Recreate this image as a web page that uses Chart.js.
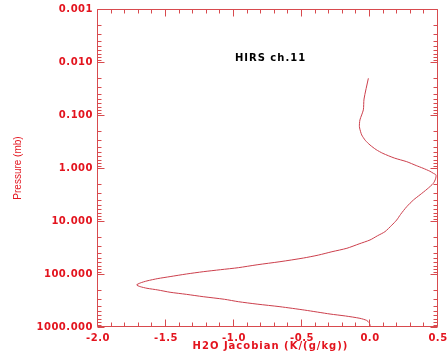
<!DOCTYPE html>
<html><head><meta charset="utf-8">
<script src="https://cdn.jsdelivr.net/npm/chart.js@4/dist/chart.umd.min.js"></script>
<style>html,body{margin:0;padding:0;background:#fff;overflow:hidden;}</style>
</head><body>
<canvas id="c" width="448" height="358" style="display:block;width:448px;height:358px"></canvas>
<script>
// Pressure levels (mb) and H2O Jacobian values (K/(g/kg))
const pressure = [0.0203, 0.05, 0.08, 0.124, 0.166, 0.207, 0.238, 0.3, 0.368, 0.45, 0.53, 0.65, 0.76, 0.9, 1.01, 1.15, 1.26, 1.35, 1.6, 1.94, 2.5, 3.2, 4.0, 5.37, 7.5, 9.6, 12, 15.9, 19, 22.8, 27, 32.7, 38, 44, 50, 58.6, 67, 76, 83, 90.5, 100, 112, 122, 135, 148, 161, 173, 186, 200, 221, 242, 268, 300, 333, 370, 414, 480, 569, 620, 686, 750, 830, 917, 1000];
const jacobian = [-0.012, -0.044, -0.049, -0.074, -0.078, -0.069, -0.061, -0.035, 0.0, 0.045, 0.095, 0.18, 0.27, 0.34, 0.39, 0.44, 0.466, 0.485, 0.482, 0.466, 0.42, 0.368, 0.32, 0.27, 0.225, 0.196, 0.16, 0.11, 0.055, 0.0, -0.08, -0.17, -0.28, -0.38, -0.49, -0.662, -0.83, -0.968, -1.10, -1.226, -1.35, -1.47, -1.56, -1.64, -1.69, -1.716, -1.69, -1.64, -1.56, -1.47, -1.35, -1.226, -1.07, -0.968, -0.83, -0.662, -0.48, -0.294, -0.18, -0.074, -0.025, -0.006, 0.0, 0.0];

const yTickValues = [0.001, 0.01, 0.1, 1, 10, 100, 1000];
const yTickLabels = ['0.001', '0.010', '0.100', '1.000', '10.000', '100.000', '1000.000'];
const xTickValues = [-2, -1.5, -1, -0.5, 0, 0.5];
const xTickLabels = ['-2.0', '-1.5', '-1.0', '-0.5', '0.0', '0.5'];

const chartTitle = 'HIRS ch.11';
const xTitle = 'H2O Jacobian (K/(g/kg))';
const yTitle = 'Pressure (mb)';

const RED_TEXT = '#e3141e';
const AXIS_COLOR = '#d84a4e';
const LINE_COLOR = '#cc3f4c';

// minor tick positions (generated grid, not data)
const xMinor = [];
for (let i = -20; i <= 5; i++) xMinor.push(i / 10);
const yMinor = [];
for (let k = -3; k <= 2; k++) for (let m = 2; m <= 9; m++) yMinor.push(m * Math.pow(10, k));

const framePlugin = {
  id: 'frame',
  beforeDraw(chart) {
    chart.ctx.letterSpacing = '0.5px';
  },
  afterDraw(chart) {
    const ctx = chart.ctx, ca = chart.chartArea;
    const xs = chart.scales.x, ys = chart.scales.y;
    ctx.save();
    ctx.strokeStyle = AXIS_COLOR;
    ctx.lineWidth = 1;
    const L = Math.round(ca.left) - 0.5, R = Math.round(ca.right) - 0.5;
    const T = Math.round(ca.top) + 0.5, B = Math.round(ca.bottom) - 0.5;
    ctx.beginPath();
    ctx.rect(L, T, R - L, B - T);
    ctx.stroke();
    ctx.beginPath();
    xMinor.forEach(v => {
      const isMajor = xTickValues.some(m => Math.abs(m - v) < 1e-9);
      const len = isMajor ? 7 : 4;
      const px = Math.round(xs.getPixelForValue(v)) - 0.5;
      ctx.moveTo(px, B); ctx.lineTo(px, B - len);
      ctx.moveTo(px, T); ctx.lineTo(px, T + len);
    });
    const yAll = yTickValues.map(v => [v, 7]).concat(yMinor.map(v => [v, 4]));
    yAll.forEach(([v, len]) => {
      const py = Math.round(ys.getPixelForValue(v)) + 0.5;
      ctx.moveTo(L, py); ctx.lineTo(L + len, py);
      ctx.moveTo(R, py); ctx.lineTo(R - len, py);
    });
    ctx.stroke();

    // texts
    ctx.textAlign = 'center';
    ctx.textBaseline = 'middle';
    ctx.letterSpacing = '1px';
    ctx.font = 'bold 10px "DejaVu Sans"';
    ctx.fillStyle = '#000';
    ctx.fillText(chartTitle, ca.left + ca.width / 2 + 2.5, ca.top + 49);
    ctx.fillStyle = RED_TEXT;
    ctx.fillText(xTitle, ca.left + ca.width / 2 + 2.5, ca.bottom + 19);
    ctx.letterSpacing = '0px';
    ctx.font = '10px "Liberation Sans"';
    ctx.translate(18.5, (ca.top + ca.bottom) / 2);
    ctx.rotate(-Math.PI / 2);
    ctx.fillText(yTitle, 0, 0);
    ctx.restore();
    ctx.letterSpacing = '0px';
  }
};

const tickFont = { family: 'DejaVu Sans', weight: 'bold', size: 10 };

new Chart(document.getElementById('c'), {
  type: 'scatter',
  data: {
    datasets: [{
      data: pressure.map((p, i) => ({ x: jacobian[i], y: p })),
      showLine: true,
      borderColor: LINE_COLOR,
      borderWidth: 1,
      pointRadius: 0,
      fill: false,
      tension: 0.25
    }]
  },
  options: {
    responsive: false,
    animation: false,
    devicePixelRatio: 1,
    layout: { padding: { top: 9, right: 10, left: 0, bottom: 0 } },
    plugins: { legend: { display: false }, tooltip: { enabled: false } },
    scales: {
      x: {
        type: 'linear', position: 'bottom', min: -2, max: 0.5,
        grid: { display: false, drawTicks: false },
        border: { display: false },
        afterBuildTicks: s => { s.ticks = xTickValues.map(v => ({ value: v })); },
        afterFit: s => { s.height = 31; s.paddingLeft = 0; s.paddingRight = 0; },
        ticks: {
          autoSkip: false, maxRotation: 0, padding: 5, color: RED_TEXT, font: tickFont,
          callback: (v, i) => xTickLabels[i]
        }
      },
      y: {
        type: 'logarithmic', position: 'left', min: 0.001, max: 1000, reverse: true,
        grid: { display: false, drawTicks: false },
        border: { display: false },
        afterBuildTicks: s => { s.ticks = yTickValues.map(v => ({ value: v })); },
        afterFit: s => { s.width = 98; s.paddingTop = 0; s.paddingBottom = 0; },
        ticks: {
          autoSkip: false, padding: 5, color: RED_TEXT, font: tickFont,
          callback: (v, i) => yTickLabels[i]
        }
      }
    }
  },
  plugins: [framePlugin]
});
</script>
</body></html>
